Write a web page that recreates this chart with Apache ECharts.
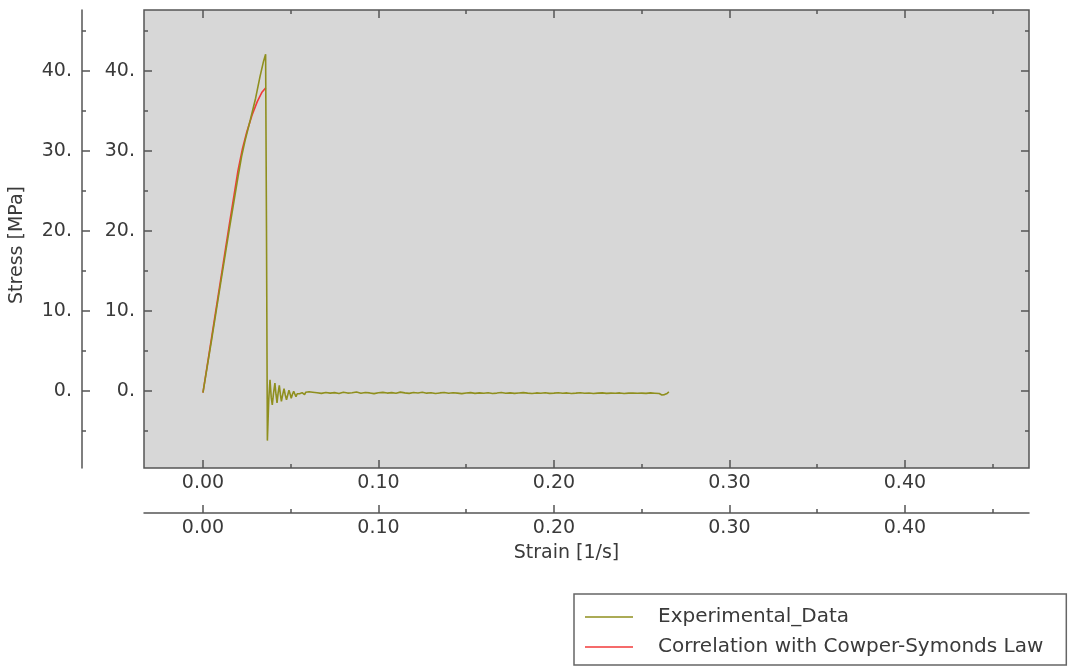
<!DOCTYPE html>
<html>
<head>
<meta charset="utf-8">
<script src="https://cdn.jsdelivr.net/npm/echarts@6/dist/echarts.min.js"></script>
<style>
  html, body { margin: 0; padding: 0; background: #ffffff; }
  #chart { width: 1069px; height: 667px; }
</style>
</head>
<body>
<div id="chart"></div>
<script>
// Measured stress-strain curve (strain [-], stress [MPa])
const expStrain = [
  0.0000, 0.0050, 0.0100, 0.0150, 0.0200, 0.0220, 0.0240, 0.0270, 0.0300, 0.0325, 0.0345, 0.0357,
  0.0362, 0.0367,
  0.0375, 0.0382, 0.0389, 0.0395, 0.0402, 0.0410, 0.0416, 0.0422, 0.0428, 0.0435, 0.0441, 0.0447,
  0.0455, 0.0462, 0.0469, 0.0476, 0.0483, 0.0490, 0.0497, 0.0503, 0.0510, 0.0517, 0.0524, 0.0530,
  0.0537, 0.0544, 0.0551, 0.0558, 0.0565, 0.0572, 0.0579, 0.0586, 0.0595, 0.0605, 0.0615, 0.0625,
  0.0650, 0.0675, 0.0700, 0.0725, 0.0750, 0.0775, 0.0800, 0.0825, 0.0850, 0.0875, 0.0900, 0.0925,
  0.0950, 0.0975, 0.1000, 0.1025, 0.1050, 0.1075, 0.1100, 0.1125, 0.1150, 0.1175, 0.1200, 0.1225,
  0.1250, 0.1275, 0.1300, 0.1325, 0.1350, 0.1375, 0.1400, 0.1425, 0.1450, 0.1475, 0.1500, 0.1525,
  0.1550, 0.1575, 0.1600, 0.1625, 0.1650, 0.1675, 0.1700, 0.1725, 0.1750, 0.1775, 0.1800, 0.1825,
  0.1850, 0.1875, 0.1900, 0.1925, 0.1950, 0.1975, 0.2000, 0.2025, 0.2050, 0.2075, 0.2100, 0.2125,
  0.2150, 0.2175, 0.2200, 0.2225, 0.2250, 0.2275, 0.2300, 0.2325, 0.2350, 0.2375, 0.2400, 0.2425,
  0.2450, 0.2475, 0.2500, 0.2525, 0.2550, 0.2575, 0.2600, 0.2615, 0.2630, 0.2645, 0.2655
];
const expStress = [
  -0.2, 6.5, 13.4, 20.2, 26.8, 29.3, 31.3, 33.9, 36.6, 39.3, 41.2, 42.1,
  20.0, -6.2,
  -1.0, 1.4, -0.8, -1.75, -0.3, 1.0, -0.4, -1.5, -0.3, 0.7, -0.4, -1.3,
  -0.4, 0.3, -0.5, -1.1, -0.5, 0.1, -0.4, -0.9, -0.4, -0.05, -0.4, -0.7,
  -0.35, -0.1, -0.35, -0.55, -0.2, -0.05, -0.45, -0.15, -0.4, -0.1, -0.35, -0.15,
  -0.22, -0.30, -0.18, -0.27, -0.20, -0.31, -0.15, -0.26, -0.21, -0.12, -0.28, -0.19,
  -0.24, -0.33, -0.22, -0.17, -0.26, -0.20, -0.29, -0.14, -0.23, -0.30, -0.19, -0.25,
  -0.16, -0.27, -0.21, -0.32, -0.24, -0.18, -0.29, -0.22, -0.27, -0.33, -0.25, -0.20,
  -0.30, -0.24, -0.28, -0.21, -0.31, -0.26, -0.19, -0.28, -0.23, -0.30, -0.25, -0.20,
  -0.27, -0.32, -0.24, -0.29, -0.22, -0.30, -0.26, -0.21, -0.28, -0.24, -0.31, -0.27,
  -0.22, -0.29, -0.25, -0.32, -0.27, -0.23, -0.30, -0.26, -0.28, -0.24, -0.31, -0.27,
  -0.25, -0.29, -0.26, -0.30, -0.24, -0.28, -0.32, -0.50, -0.45, -0.30, -0.12
];

// Cowper-Symonds fit
const csStrain = [0.0000, 0.0050, 0.0100, 0.0150, 0.0200, 0.0225, 0.0250, 0.0280, 0.0310, 0.0335, 0.0358];
const csStress = [-0.2, 6.8, 13.8, 20.8, 27.6, 30.3, 32.4, 34.5, 36.2, 37.3, 37.9];

// Axis ticks
const xMajorTicks = [0.0, 0.1, 0.2, 0.3, 0.4];
const xMinorTicks = [0.05, 0.15, 0.25, 0.35, 0.45];
const yMajorTicks = [0, 10, 20, 30, 40];
const yMinorTicks = [-5, 5, 15, 25, 35, 45];

const seriesNames = ['Experimental_Data', 'Correlation with Cowper-Symonds Law'];

const X_MIN = -0.0336, X_MAX = 0.4707;
const Y_MIN = -9.625, Y_MAX = 47.625;

const FONT = 'DejaVu Sans';
const TEXT = '#3a3a3a';
const AXIS = '#555555';

const pairs = (xs, ys) => xs.map((x, i) => [x, ys[i]]);
const fmtX = v => v.toFixed(2);
const fmtY = v => Math.round(v) + '.';

const hiddenLine = { show: false, onZero: false, lineStyle: { color: AXIS, width: 1.5 } };
const shownLine = { show: true, onZero: false, lineStyle: { color: AXIS, width: 1.5 } };

function xAxisDef(opts) {
  return Object.assign({
    type: 'value', gridIndex: 0, min: X_MIN, max: X_MAX,
    splitLine: { show: false },
    axisLine: hiddenLine,
    axisLabel: { show: false }
  }, opts);
}
function yAxisDef(opts) {
  return Object.assign({
    type: 'value', gridIndex: 0, min: Y_MIN, max: Y_MAX,
    splitLine: { show: false },
    axisLine: hiddenLine,
    axisLabel: { show: false }
  }, opts);
}
const majorTick = vals => ({ show: true, inside: true, length: 8, customValues: vals, lineStyle: { color: AXIS, width: 1.5 } });
const minorTick = vals => ({ show: true, inside: true, length: 4, customValues: vals, lineStyle: { color: AXIS, width: 1.5 } });
const xLabel = { show: true, customValues: xMajorTicks, formatter: fmtX, color: TEXT, fontFamily: FONT, fontSize: 19, margin: 6 };
const yLabel = margin => ({ show: true, customValues: yMajorTicks, formatter: fmtY, color: TEXT, fontFamily: FONT, fontSize: 19, margin: margin });

const chart = echarts.init(document.getElementById('chart'), null, { renderer: 'canvas' });

chart.setOption({
  animation: false,
  backgroundColor: '#ffffff',
  grid: [{
    left: 144, top: 10, width: 885, height: 458,
    show: true, backgroundColor: '#d7d7d7', borderColor: AXIS, borderWidth: 1.5,
    containLabel: false
  }],
  xAxis: [
    // plot frame, bottom
    xAxisDef({ position: 'bottom', axisTick: majorTick(xMajorTicks), axisLabel: xLabel }),
    xAxisDef({ position: 'bottom', axisTick: minorTick(xMinorTicks) }),
    // plot frame, top
    xAxisDef({ position: 'top', axisTick: majorTick(xMajorTicks) }),
    xAxisDef({ position: 'top', axisTick: minorTick(xMinorTicks) }),
    // detached strain axis
    xAxisDef({
      position: 'bottom', offset: 45,
      axisLine: shownLine,
      axisTick: majorTick(xMajorTicks), axisLabel: xLabel,
      name: 'Strain [1/s]', nameLocation: 'middle', nameGap: 31,
      nameTextStyle: { color: TEXT, fontFamily: FONT, fontSize: 19, padding: [0, 40, 0, 0] }
    }),
    xAxisDef({ position: 'bottom', offset: 45, axisTick: minorTick(xMinorTicks) })
  ],
  yAxis: [
    // plot frame, left
    yAxisDef({ position: 'left', axisTick: majorTick(yMajorTicks), axisLabel: yLabel(9) }),
    yAxisDef({ position: 'left', axisTick: minorTick(yMinorTicks) }),
    // plot frame, right
    yAxisDef({ position: 'right', axisTick: majorTick(yMajorTicks) }),
    yAxisDef({ position: 'right', axisTick: minorTick(yMinorTicks) }),
    // detached stress axis
    yAxisDef({
      position: 'left', offset: 62,
      axisLine: shownLine,
      axisTick: majorTick(yMajorTicks), axisLabel: yLabel(10),
      name: 'Stress [MPa]', nameLocation: 'middle', nameGap: 55,
      nameTextStyle: { color: TEXT, fontFamily: FONT, fontSize: 19, padding: [0, 12, 0, 0] }
    }),
    yAxisDef({ position: 'left', offset: 62, axisTick: minorTick(yMinorTicks) })
  ],
  legend: {
    orient: 'vertical',
    left: 574, top: 594,
    padding: [13, 23, 8, 11],
    itemGap: 10,
    itemWidth: 48, itemHeight: 1.5,
    icon: 'rect',
    borderColor: '#666666', borderWidth: 1.5,
    backgroundColor: '#ffffff',
    selectedMode: false,
    textStyle: { color: TEXT, fontFamily: FONT, fontSize: 20, lineHeight: 20, padding: [0, 0, 0, 20] },
    data: seriesNames
  },
  series: [
    {
      name: seriesNames[0], type: 'line', xAxisIndex: 0, yAxisIndex: 0,
      data: pairs(expStrain, expStress),
      showSymbol: false, symbol: 'none', clip: true,
      lineStyle: { color: '#8f8f1e', width: 1.6 },
      itemStyle: { color: '#8f8f1e' },
      z: 3
    },
    {
      name: seriesNames[1], type: 'line', xAxisIndex: 0, yAxisIndex: 0,
      data: pairs(csStrain, csStress),
      showSymbol: false, symbol: 'none', clip: true, smooth: false,
      lineStyle: { color: '#f23a3a', width: 1.6 },
      itemStyle: { color: '#f23a3a' },
      z: 2
    }
  ]
});
</script>
</body>
</html>
